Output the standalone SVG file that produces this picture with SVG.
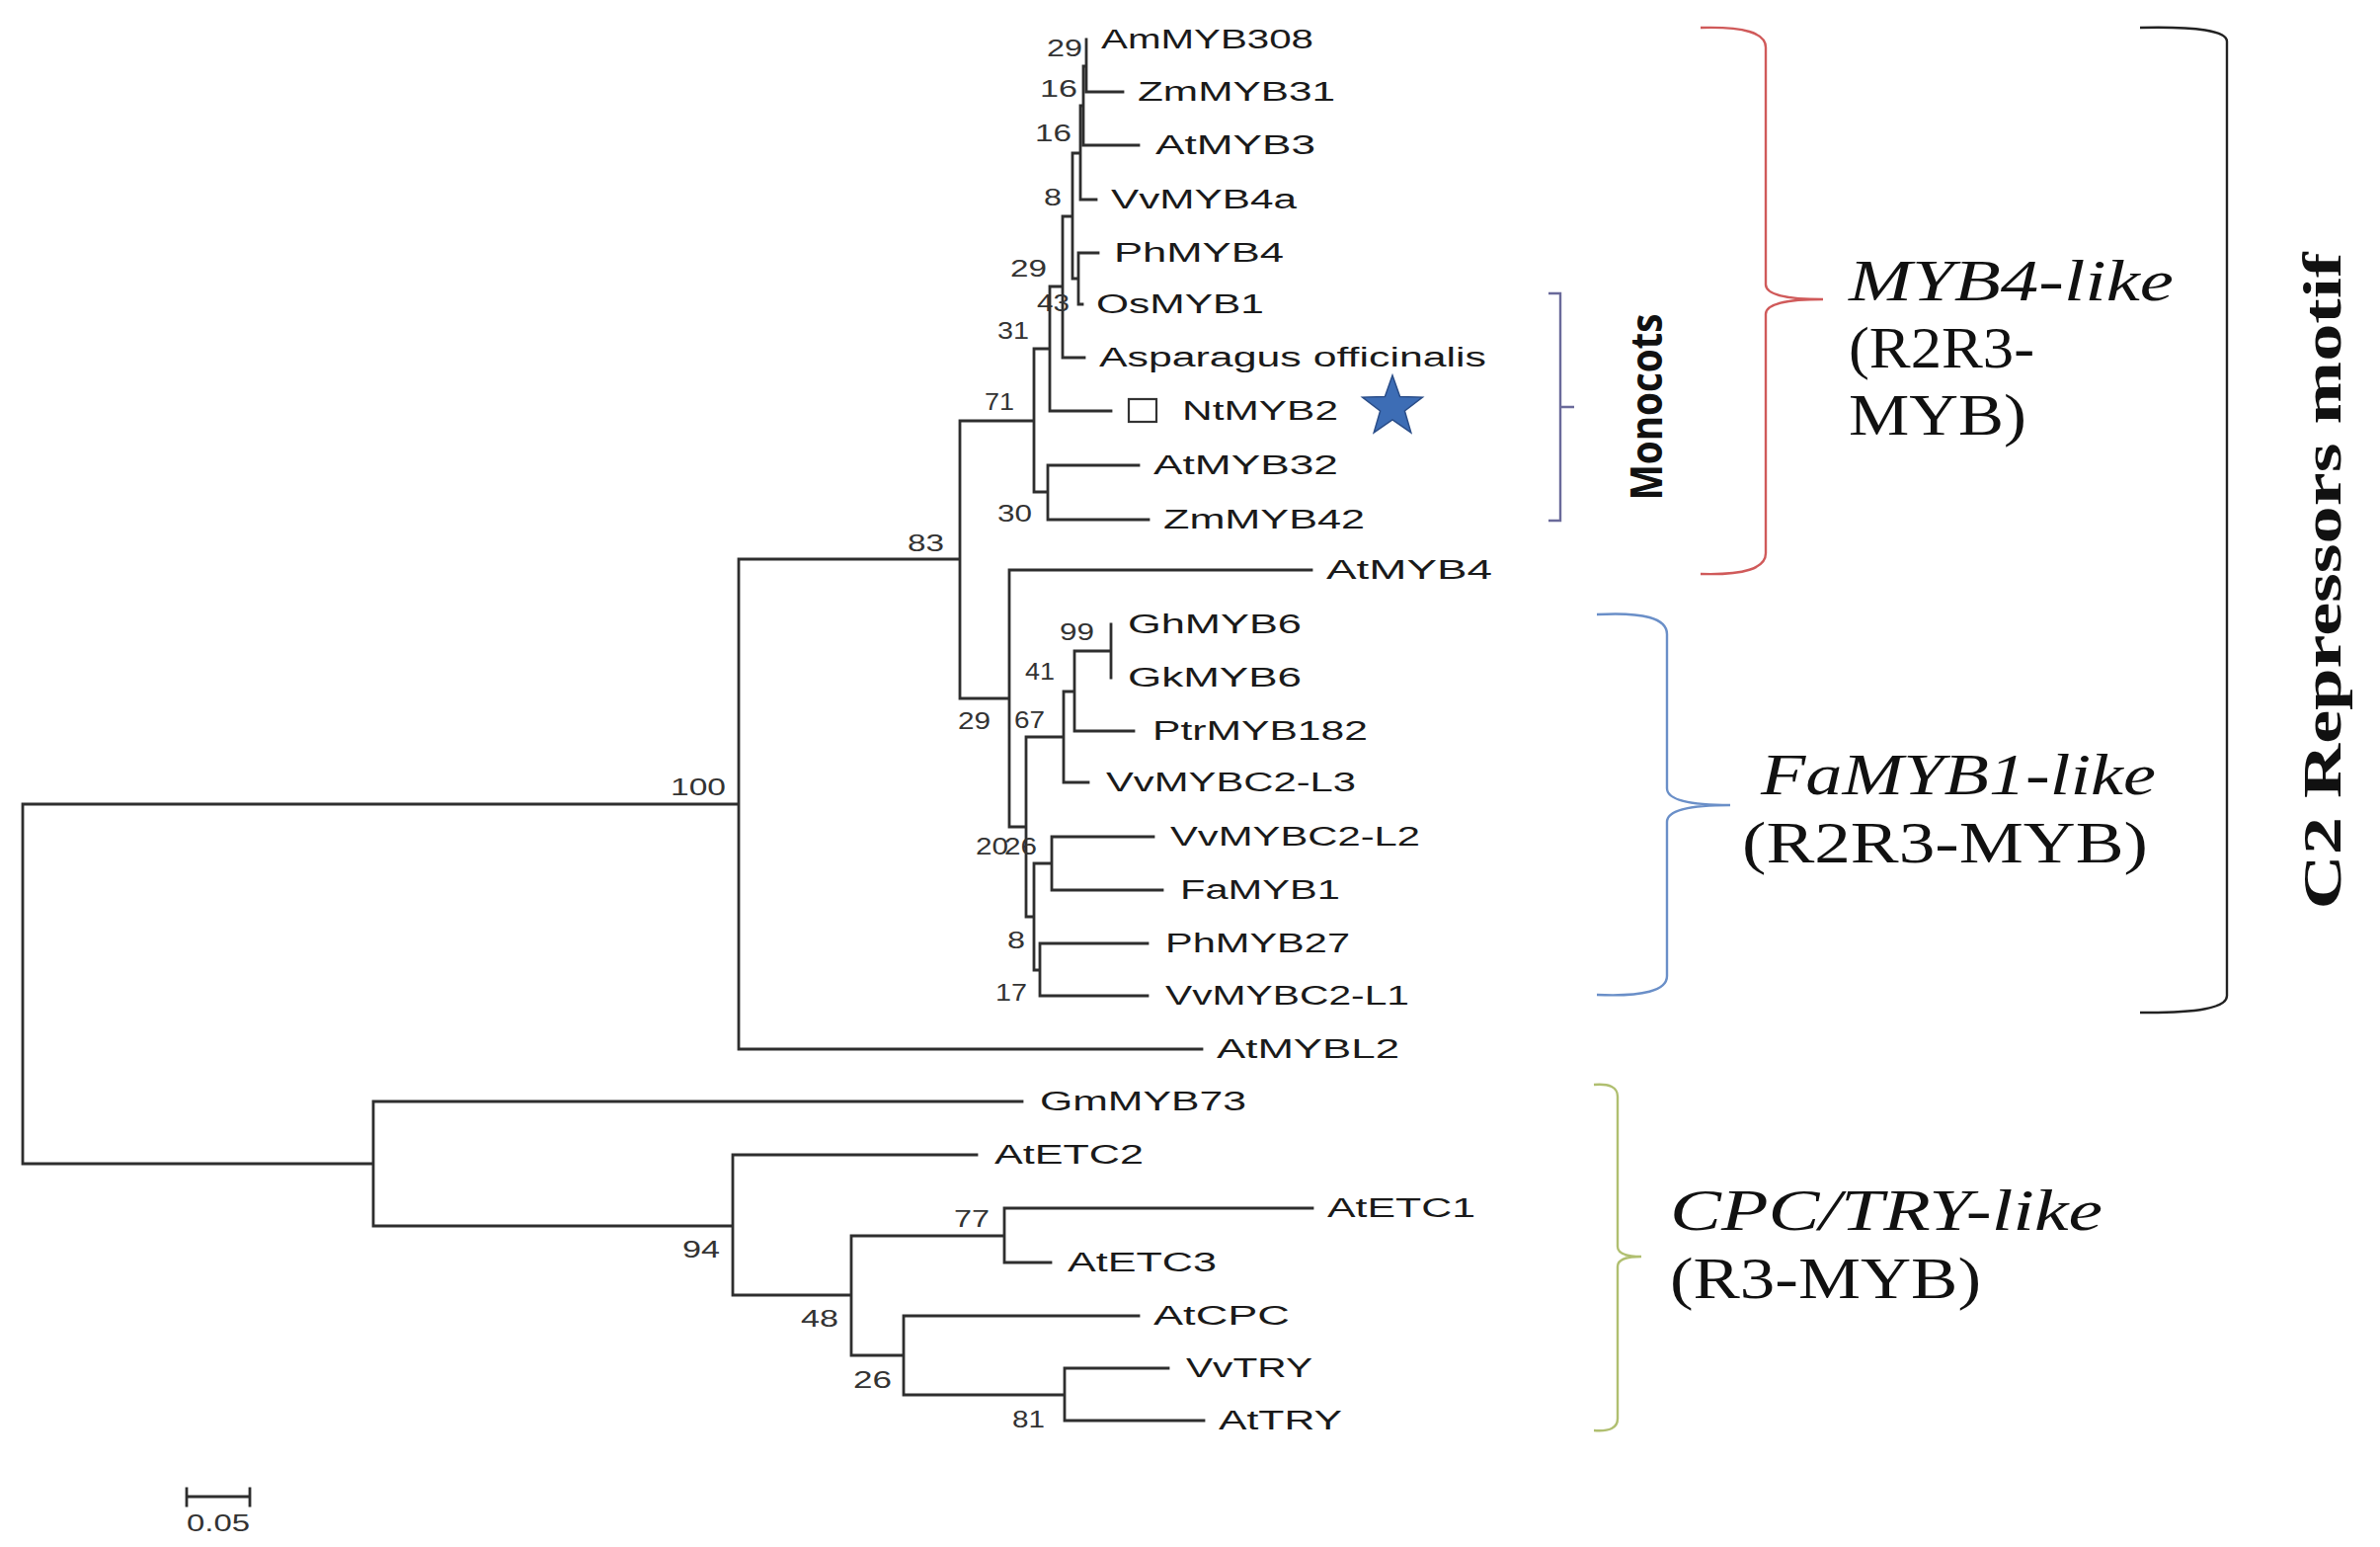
<svg xmlns="http://www.w3.org/2000/svg" width="2410" height="1566" viewBox="0 0 2410 1566">
<style>
.t{fill:none;stroke:#2e2e2e;stroke-width:2.8;stroke-linecap:square}
.lab{font-family:"Liberation Sans",Arial,sans-serif;font-size:27px;fill:#1a1a1a}
.bs{font-family:"Liberation Sans",Arial,sans-serif;font-size:24px;fill:#333}
.grp{font-family:"Liberation Serif","Times New Roman",serif;font-size:60px;fill:#111}
.it{font-style:italic}
.br{fill:none;stroke-width:2.4}
</style>
<rect width="2410" height="1566" fill="#fff"/>
<g id="connectors">
<path class="t" d="M1100 40V93M1100 93H1137M1097 67H1100M1097 67V147M1097 147H1153M1094 107H1097M1094 107V202M1094 202H1110M1086 155H1094M1092 256V308M1092 256H1112M1092 308H1096M1086 282H1092M1086 155V282M1076 219H1086M1076 219V362M1076 362H1098M1063 290H1076M1063 290V416M1063 416H1125M1047 353H1063M1061 471V526M1061 471H1153M1061 526H1163M1047 498H1061M1047 353V498M972 426H1047M972 426V707M748 566H972M1022 577V837M1022 577H1328M972 707H1022M1125 632V686M1088 659H1125M1088 659V740M1088 740H1148M1077 700H1088M1077 700V792M1077 792H1102M1039 746H1077M1039 746V928M1022 837H1039M1047 874V982M1039 928H1047M1065 847V901M1065 847H1168M1065 901H1177M1047 874H1065M1053 955V1008M1053 955H1162M1053 1008H1162M1047 982H1053M748 566V1062M748 1062H1217M23 814H748M23 814V1178M23 1178H378M378 1115V1241M378 1115H1035M378 1241H742M742 1169V1311M742 1169H989M742 1311H862M862 1251V1372M862 1251H1017M862 1372H915M1017 1223V1278M1017 1223H1329M1017 1278H1064M915 1332V1412M915 1332H1153M915 1412H1078M1078 1385V1438M1078 1385H1183M1078 1438H1219"/>
</g>
<g id="bootstrap">
<text class="bs" x="1060" y="57" textLength="36" lengthAdjust="spacingAndGlyphs">29</text>
<text class="bs" x="1053" y="98" textLength="38" lengthAdjust="spacingAndGlyphs">16</text>
<text class="bs" x="1048" y="143" textLength="37" lengthAdjust="spacingAndGlyphs">16</text>
<text class="bs" x="1057" y="208" textLength="18" lengthAdjust="spacingAndGlyphs">8</text>
<text class="bs" x="1023" y="280" textLength="37" lengthAdjust="spacingAndGlyphs">29</text>
<text class="bs" x="1050" y="315" textLength="33" lengthAdjust="spacingAndGlyphs">43</text>
<text class="bs" x="1010" y="343" textLength="32" lengthAdjust="spacingAndGlyphs">31</text>
<text class="bs" x="997" y="415" textLength="30" lengthAdjust="spacingAndGlyphs">71</text>
<text class="bs" x="1010" y="528" textLength="35" lengthAdjust="spacingAndGlyphs">30</text>
<text class="bs" x="919" y="558" textLength="37" lengthAdjust="spacingAndGlyphs">83</text>
<text class="bs" x="679" y="805" textLength="56" lengthAdjust="spacingAndGlyphs">100</text>
<text class="bs" x="1073" y="648" textLength="35" lengthAdjust="spacingAndGlyphs">99</text>
<text class="bs" x="1038" y="688" textLength="30" lengthAdjust="spacingAndGlyphs">41</text>
<text class="bs" x="970" y="738" textLength="33" lengthAdjust="spacingAndGlyphs">29</text>
<text class="bs" x="1027" y="737" textLength="31" lengthAdjust="spacingAndGlyphs">67</text>
<text class="bs" x="988" y="865" textLength="33" lengthAdjust="spacingAndGlyphs">20</text>
<text class="bs" x="1017" y="865" textLength="33" lengthAdjust="spacingAndGlyphs">26</text>
<text class="bs" x="1020" y="960" textLength="18" lengthAdjust="spacingAndGlyphs">8</text>
<text class="bs" x="1008" y="1013" textLength="32" lengthAdjust="spacingAndGlyphs">17</text>
<text class="bs" x="691" y="1273" textLength="38" lengthAdjust="spacingAndGlyphs">94</text>
<text class="bs" x="811" y="1343" textLength="38" lengthAdjust="spacingAndGlyphs">48</text>
<text class="bs" x="966" y="1242" textLength="36" lengthAdjust="spacingAndGlyphs">77</text>
<text class="bs" x="864" y="1405" textLength="39" lengthAdjust="spacingAndGlyphs">26</text>
<text class="bs" x="1025" y="1445" textLength="33" lengthAdjust="spacingAndGlyphs">81</text>
</g>
<g id="AmMYB308"><text class="lab" x="1115" y="49" textLength="215" lengthAdjust="spacingAndGlyphs">AmMYB308</text></g>
<g id="ZmMYB31"><text class="lab" x="1152" y="102" textLength="200" lengthAdjust="spacingAndGlyphs">ZmMYB31</text></g>
<g id="AtMYB3"><text class="lab" x="1170" y="156" textLength="162" lengthAdjust="spacingAndGlyphs">AtMYB3</text></g>
<g id="VvMYB4a"><text class="lab" x="1125" y="211" textLength="188" lengthAdjust="spacingAndGlyphs">VvMYB4a</text></g>
<g id="PhMYB4"><text class="lab" x="1128" y="265" textLength="172" lengthAdjust="spacingAndGlyphs">PhMYB4</text></g>
<g id="OsMYB1"><text class="lab" x="1110" y="317" textLength="170" lengthAdjust="spacingAndGlyphs">OsMYB1</text></g>
<g id="Asparagus"><text class="lab" x="1113" y="371" textLength="392" lengthAdjust="spacingAndGlyphs">Asparagus officinalis</text></g>
<g id="NtMYB2">
<rect x="1143" y="404" width="28" height="23" fill="none" stroke="#333" stroke-width="2.2"/>
<text class="lab" x="1197" y="425" textLength="158" lengthAdjust="spacingAndGlyphs">NtMYB2</text>
<polygon points="1410,380 1417.6,401.5 1440.4,402.1 1422.4,416 1428.8,437.9 1410,425 1391.2,437.9 1397.6,416 1379.6,402.1 1402.4,401.5" fill="#3d6db5" stroke="#2a4d88" stroke-width="1.5"/>
</g>
<g id="AtMYB32"><text class="lab" x="1168" y="480" textLength="187" lengthAdjust="spacingAndGlyphs">AtMYB32</text></g>
<g id="ZmMYB42"><text class="lab" x="1178" y="535" textLength="204" lengthAdjust="spacingAndGlyphs">ZmMYB42</text></g>
<g id="AtMYB4"><text class="lab" x="1343" y="586" textLength="168" lengthAdjust="spacingAndGlyphs">AtMYB4</text></g>
<g id="GhMYB6"><text class="lab" x="1142" y="641" textLength="176" lengthAdjust="spacingAndGlyphs">GhMYB6</text></g>
<g id="GkMYB6"><text class="lab" x="1142" y="695" textLength="176" lengthAdjust="spacingAndGlyphs">GkMYB6</text></g>
<g id="PtrMYB182"><text class="lab" x="1167" y="749" textLength="218" lengthAdjust="spacingAndGlyphs">PtrMYB182</text></g>
<g id="VvMYBC2-L3"><text class="lab" x="1120" y="801" textLength="253" lengthAdjust="spacingAndGlyphs">VvMYBC2-L3</text></g>
<g id="VvMYBC2-L2"><text class="lab" x="1185" y="856" textLength="253" lengthAdjust="spacingAndGlyphs">VvMYBC2-L2</text></g>
<g id="FaMYB1"><text class="lab" x="1195" y="910" textLength="162" lengthAdjust="spacingAndGlyphs">FaMYB1</text></g>
<g id="PhMYB27"><text class="lab" x="1180" y="964" textLength="187" lengthAdjust="spacingAndGlyphs">PhMYB27</text></g>
<g id="VvMYBC2-L1"><text class="lab" x="1180" y="1017" textLength="247" lengthAdjust="spacingAndGlyphs">VvMYBC2-L1</text></g>
<g id="AtMYBL2"><text class="lab" x="1232" y="1071" textLength="185" lengthAdjust="spacingAndGlyphs">AtMYBL2</text></g>
<g id="GmMYB73"><text class="lab" x="1053" y="1124" textLength="209" lengthAdjust="spacingAndGlyphs">GmMYB73</text></g>
<g id="AtETC2"><text class="lab" x="1007" y="1178" textLength="151" lengthAdjust="spacingAndGlyphs">AtETC2</text></g>
<g id="AtETC1"><text class="lab" x="1344" y="1232" textLength="150" lengthAdjust="spacingAndGlyphs">AtETC1</text></g>
<g id="AtETC3"><text class="lab" x="1081" y="1287" textLength="151" lengthAdjust="spacingAndGlyphs">AtETC3</text></g>
<g id="AtCPC"><text class="lab" x="1168" y="1341" textLength="138" lengthAdjust="spacingAndGlyphs">AtCPC</text></g>
<g id="VvTRY"><text class="lab" x="1201" y="1394" textLength="128" lengthAdjust="spacingAndGlyphs">VvTRY</text></g>
<g id="AtTRY"><text class="lab" x="1234" y="1447" textLength="125" lengthAdjust="spacingAndGlyphs">AtTRY</text></g>
<g id="monocots">
<path class="br" stroke="#6a6a9a" d="M1568 297H1580V527H1568M1580 412H1594"/>
<text transform="translate(1683,412) rotate(-90)" text-anchor="middle" font-family="'Open Sans','Liberation Sans',sans-serif" font-weight="bold" font-size="44" fill="#111" textLength="189" lengthAdjust="spacingAndGlyphs">Monocots</text>
</g>
<g id="myb4-like">
<path class="br" stroke="#d05a5a" d="M1722 28Q1788 26 1788 48V288Q1788 303 1846 303Q1788 303 1788 318V560Q1788 583 1722 581"/>
<text class="grp it" x="1872" y="304" textLength="329" lengthAdjust="spacingAndGlyphs">MYB4-like</text>
<text class="grp" x="1872" y="372" textLength="188" lengthAdjust="spacingAndGlyphs">(R2R3-</text>
<text class="grp" x="1872" y="440" textLength="180" lengthAdjust="spacingAndGlyphs">MYB)</text>
</g>
<g id="famyb1-like">
<path class="br" stroke="#6a8fc8" d="M1617 622Q1688 618 1688 642V798Q1688 815 1752 815Q1688 815 1688 832V988Q1688 1010 1617 1007"/>
<text class="grp it" x="1783" y="804" textLength="400" lengthAdjust="spacingAndGlyphs">FaMYB1-like</text>
<text class="grp" x="1764" y="873" textLength="411" lengthAdjust="spacingAndGlyphs">(R2R3-MYB)</text>
</g>
<g id="cpc-try-like">
<path class="br" stroke="#b0bf70" d="M1614 1098Q1638 1096 1638 1110V1262Q1638 1272 1662 1272Q1638 1272 1638 1282V1436Q1638 1450 1614 1448"/>
<text class="grp it" x="1691" y="1245" textLength="438" lengthAdjust="spacingAndGlyphs">CPC/TRY-like</text>
<text class="grp" x="1691" y="1314" textLength="315" lengthAdjust="spacingAndGlyphs">(R3-MYB)</text>
</g>
<g id="c2-repressors">
<path class="br" stroke="#222" d="M2167 28Q2255 26 2255 42V1008Q2255 1026 2167 1025"/>
<text transform="translate(2370,588) rotate(-90)" text-anchor="middle" font-family="'Liberation Serif','Times New Roman',serif" font-weight="bold" font-size="54" fill="#111" textLength="665" lengthAdjust="spacingAndGlyphs">C2 Repressors motif</text>
</g>
<g id="scale-bar">
<path class="t" stroke-width="2" d="M189 1515H253M189 1507V1524M253 1507V1524"/>
<text class="bs" x="221" y="1550" text-anchor="middle" textLength="64" lengthAdjust="spacingAndGlyphs">0.05</text>
</g>
</svg>
